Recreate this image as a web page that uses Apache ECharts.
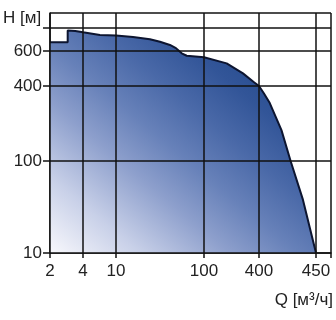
<!DOCTYPE html>
<html>
<head>
<meta charset="utf-8">
<script src="https://cdn.jsdelivr.net/npm/echarts@6/dist/echarts.min.js"></script>
<style>
html,body{margin:0;padding:0;background:#fff;}
#chart{width:336px;height:320px;}
</style>
</head>
<body>
<div id="chart"></div>
<script>
// ---- data ----
const qTicks = [2, 4, 10, 100, 400, 450];
const qTickLabels = ['2', '4', '10', '100', '400', '450'];
const hTicks = [10, 100, 400, 600, 800];
const hTickLabels = ['10', '100', '400', '600', ''];

const qValues = [2, 2.9, 2.9, 3.4, 4, 6.4, 10, 15.6, 24.3, 31.6, 41, 48, 55.8, 63.6, 100, 177, 267, 347, 400, 404, 409, 419, 427, 438, 450];
const hValues = [670, 670, 775, 770, 758, 733, 728, 714, 695, 674, 647, 622, 584, 568, 558, 520, 463, 420, 400, 350, 292, 177, 100, 38, 10];

// ---- axis layout (non-uniform printed scale) ----
const xTickPos = [0, 33, 66, 154, 209, 266];
const xMax = 281;
const yTickPos = [0, 92, 167, 202, 225];
const yMax = 240;

function warp(v, ticks, pos) {
  const lv = Math.log10(v);
  for (let i = 0; i < ticks.length - 1; i++) {
    const a = Math.log10(ticks[i]), b = Math.log10(ticks[i + 1]);
    if (lv <= b || i === ticks.length - 2) {
      return pos[i] + (lv - a) / (b - a) * (pos[i + 1] - pos[i]);
    }
  }
}
function labelFor(v, pos, labels) {
  for (let i = 0; i < pos.length; i++) if (Math.abs(pos[i] - v) < 0.5) return labels[i];
  return '';
}

const seriesData = qValues.map((q, i) => [warp(q, qTicks, xTickPos), warp(hValues[i], hTicks, yTickPos)]);

const FONT = "'Liberation Sans', Arial, sans-serif";
const INK = '#111';

const gridLines = [];
xTickPos.concat([xMax]).forEach(x => gridLines.push({ xAxis: x }));
yTickPos.concat([yMax]).forEach(y => gridLines.push({ yAxis: y }));

const chart = echarts.init(document.getElementById('chart'), null, { renderer: 'canvas' });
chart.setOption({
  animation: false,
  backgroundColor: '#fff',
  grid: { left: 50, right: 5, top: 13, bottom: 67, containLabel: false },
  xAxis: {
    type: 'value', min: 0, max: xMax,
    axisLine: { show: true, lineStyle: { color: INK, width: 1.5 } },
    axisTick: { show: true, customValues: xTickPos.concat([xMax]), length: 5, lineStyle: { color: INK, width: 1.5 } },
    axisLabel: {
      customValues: xTickPos, margin: 10,
      formatter: v => labelFor(v, xTickPos, qTickLabels),
      fontFamily: FONT, fontSize: 17, color: '#222'
    },
    splitLine: { show: false }
  },
  yAxis: {
    type: 'value', min: 0, max: yMax,
    axisLine: { show: true, lineStyle: { color: INK, width: 1.5 } },
    axisTick: { show: true, customValues: yTickPos, length: 7, lineStyle: { color: INK, width: 1.5 } },
    axisLabel: {
      customValues: yTickPos, margin: 8,
      formatter: v => labelFor(v, yTickPos, hTickLabels),
      fontFamily: FONT, fontSize: 17, color: '#222'
    },
    splitLine: { show: false }
  },
  series: [{
    type: 'line',
    data: seriesData,
    symbol: 'none',
    smooth: false,
    lineStyle: { color: '#0d1530', width: 2 },
    areaStyle: {
      opacity: 1,
      color: new echarts.graphic.LinearGradient(0, 1, 0.7, 0, [
        { offset: 0, color: '#f8f8fc' },
        { offset: 0.2, color: '#c8d0e8' },
        { offset: 0.4, color: '#8d9fcc' },
        { offset: 0.55, color: '#6781b9' },
        { offset: 0.7, color: '#4a69a8' },
        { offset: 0.85, color: '#325598' },
        { offset: 1, color: '#244a8c' }
      ])
    },
    markLine: {
      silent: true, symbol: 'none', label: { show: false },
      lineStyle: { color: INK, width: 1.5, type: 'solid' },
      data: gridLines
    },
    z: 2
  }],
  graphic: [
    { type: 'text', left: 3, top: 10, style: { text: 'H [м]', fontFamily: FONT, fontSize: 17, fill: '#222' } },
    { type: 'text', right: 3, top: 292, style: { text: 'Q [м³/ч]', fontFamily: FONT, fontSize: 17, fill: '#222' } }
  ]
});
</script>
</body>
</html>
